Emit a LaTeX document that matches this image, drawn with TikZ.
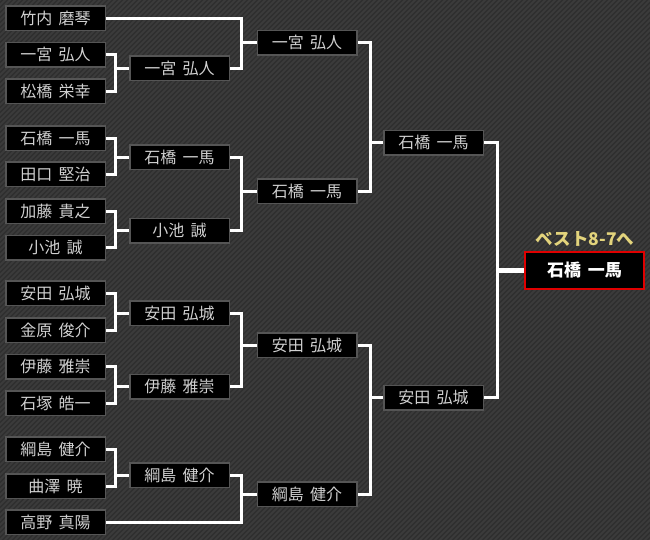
\documentclass[tikz,border=0pt]{standalone}
\usepackage{fontspec}
\setmainfont{Noto Sans CJK JP}[WordSpace=1.7]
\definecolor{bg}{HTML}{2E2E2E}
\definecolor{stripe}{HTML}{3B3B3B}
\definecolor{boxline}{HTML}{555555}
\definecolor{txt}{HTML}{D0D0D0}
\definecolor{winred}{HTML}{E00000}
\definecolor{besty}{HTML}{E3D47C}
\begin{document}
\begin{tikzpicture}[x=1pt,y=-1pt,
  player/.style={draw=boxline, fill=black, line width=1.5pt, minimum width=99.5pt, minimum height=24.5pt, inner sep=0pt, text=txt, font=\fontsize{16}{16}\selectfont},
  champ/.style={draw=winred, fill=black, line width=2pt, minimum width=119pt, minimum height=37pt, inner sep=0pt, text=white, font=\fontsize{17}{17}\selectfont\bfseries},
  besttext/.style={text=besty, inner sep=0pt, font=\fontsize{17.5}{18}\selectfont\bfseries},
  con/.style={draw=white, line width=3pt, line join=miter},
  stripeline/.style={draw=stripe, line width=1.8pt}]
\useasboundingbox (0,0) rectangle (650,539);
\fill[bg] (-2,-2) rectangle (652,541);
\begin{scope}
  \clip (-2,-2) rectangle (652,541);
  \foreach \i in {-560,-555,...,660} \draw[stripeline] (\i,550) -- (\i+560,-10);
\end{scope}
% round 1
\node[player] (L1)  at (55.5,18)  {竹内 磨琴};
\node[player] (L2)  at (55.5,54.7){一宮 弘人};
\node[player] (L3)  at (55.5,91)  {松橋 栄幸};
\node[player] (L4)  at (55.5,138) {石橋 一馬};
\node[player] (L5)  at (55.5,174) {田口 堅治};
\node[player] (L6)  at (55.5,211) {加藤 貴之};
\node[player] (L7)  at (55.5,247.5){小池 誠};
\node[player] (L8)  at (55.5,293) {安田 弘城};
\node[player] (L9)  at (55.5,330) {金原 俊介};
\node[player] (L10) at (55.5,366.5){伊藤 雅崇};
\node[player] (L11) at (55.5,403) {石塚 皓一};
\node[player] (L12) at (55.5,449) {綱島 健介};
\node[player] (L13) at (55.5,486) {曲澤 暁};
\node[player] (L14) at (55.5,522) {高野 真陽};
% round 2
\node[player] (R2a) at (179.5,68)   {一宮 弘人};
\node[player] (R2b) at (179.5,157)  {石橋 一馬};
\node[player] (R2c) at (179.5,230.5){小池 誠};
\node[player] (R2d) at (179.5,313)  {安田 弘城};
\node[player] (R2e) at (179.5,386.5){伊藤 雅崇};
\node[player] (R2f) at (179.5,475)  {綱島 健介};
% round 3
\node[player] (R3a) at (307,42.5) {一宮 弘人};
\node[player] (R3b) at (307,191)  {石橋 一馬};
\node[player] (R3c) at (307,345)  {安田 弘城};
\node[player] (R3d) at (307,494)  {綱島 健介};
% round 4
\node[player] (R4a) at (433.5,142.5) {石橋 一馬};
\node[player] (R4b) at (433.5,397.5) {安田 弘城};
% final
\node[champ] (F) at (584.5,270.5) {石橋 一馬};
\node[besttext] (B) at (585,239) {ベスト8-7へ};
% junction points
\coordinate (j2a) at ([xshift=-14pt]R2a.west);
\coordinate (j2b) at ([xshift=-14pt]R2b.west);
\coordinate (j2c) at ([xshift=-14pt]R2c.west);
\coordinate (j2d) at ([xshift=-14pt]R2d.west);
\coordinate (j2e) at ([xshift=-14pt]R2e.west);
\coordinate (j2f) at ([xshift=-14pt]R2f.west);
\coordinate (j3a) at ([xshift=-15pt]R3a.west);
\coordinate (j3b) at ([xshift=-15pt]R3b.west);
\coordinate (j3c) at ([xshift=-15pt]R3c.west);
\coordinate (j3d) at ([xshift=-15pt]R3d.west);
\coordinate (j4a) at ([xshift=-13pt]R4a.west);
\coordinate (j4b) at ([xshift=-13pt]R4b.west);
\coordinate (jF)  at ([xshift=-27pt]F.west);
% connectors
\foreach \a/\b/\j/\p in {L2/L3/j2a/R2a, L4/L5/j2b/R2b, L6/L7/j2c/R2c, L8/L9/j2d/R2d, L10/L11/j2e/R2e, L12/L13/j2f/R2f,
  L1/R2a/j3a/R3a, R2b/R2c/j3b/R3b, R2d/R2e/j3c/R3c, R2f/L14/j3d/R3d,
  R3a/R3b/j4a/R4a, R3c/R3d/j4b/R4b} {
  \draw[con] (\a.east) -| (\j) |- (\b.east);
  \draw[con] (\j) -- (\p.west);
}
\draw[con] (R4a.east) -| (jF) |- (R4b.east);
\draw[con, line width=4.5pt] (jF) -- (F.west);
\end{tikzpicture}
\end{document}
